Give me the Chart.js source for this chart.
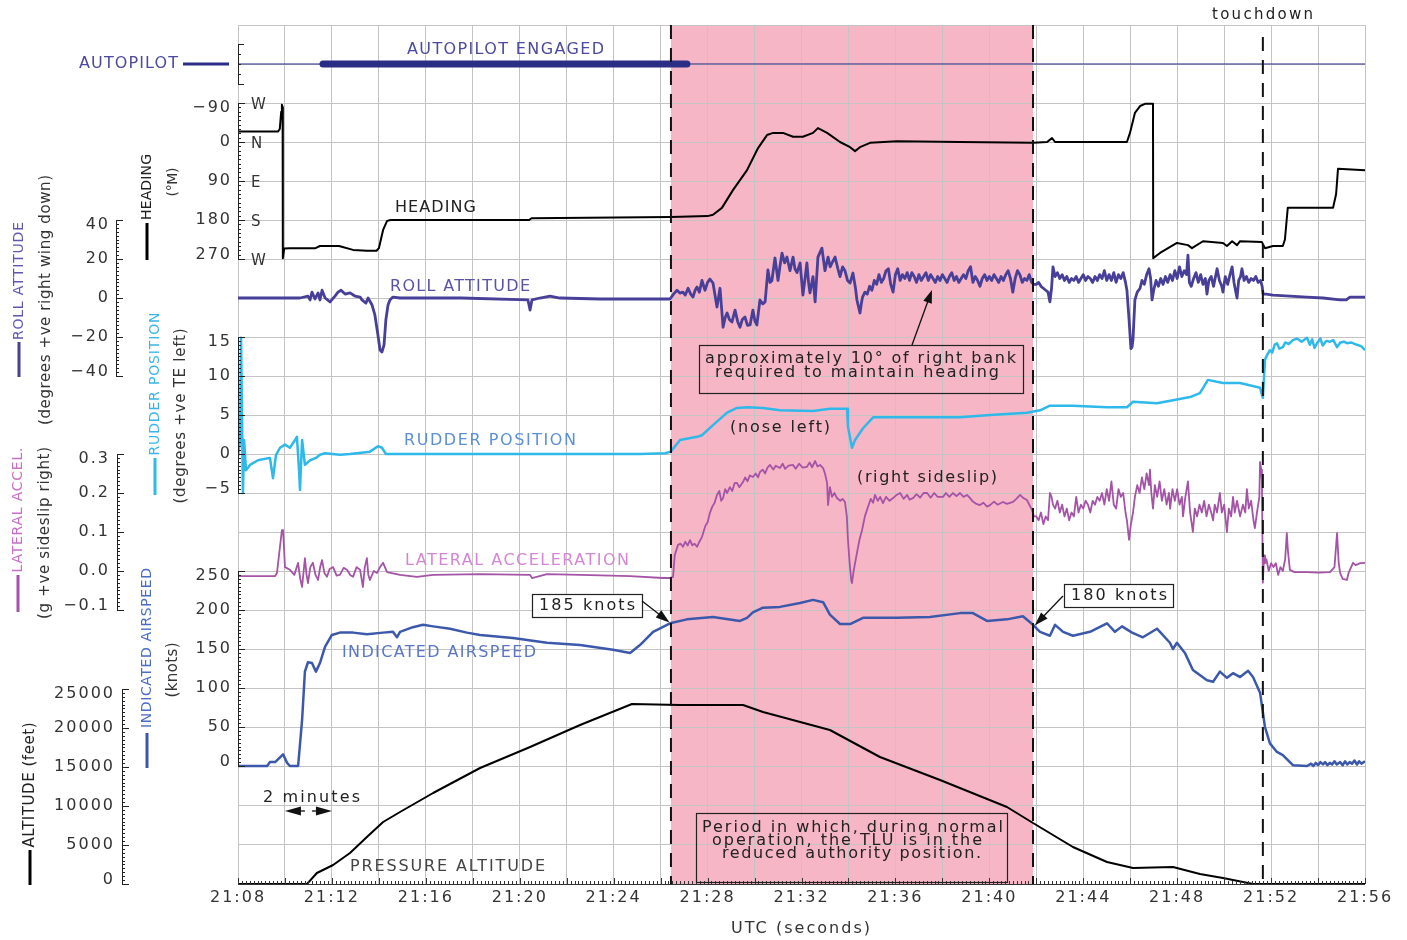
<!DOCTYPE html>
<html><head><meta charset="utf-8">
<script src="https://cdn.jsdelivr.net/npm/chart.js@4.4.1/dist/chart.umd.min.js"></script>
<style>html,body{margin:0;padding:0;background:#fff}canvas{display:block}</style>
</head><body>
<canvas id="c" width="1407" height="940"></canvas>
<script>
// ---------- DATA (time = minutes after 21:00 UTC) ----------
const timeTicks = [8,12,16,20,24,28,32,36,40,44,48,52,56];
const events = { tluStart: 26.44, tluEnd: 41.86, touchdown: 51.65 };
const autopilotAll = [[8,1],[56,1]];
const autopilotEngaged = [[11.62,1],[27.12,1]];

const headingTicks = [-90,0,90,180,270];
const compassLabels = ['W','N','E','S','W'];
const rollTicks = [40,20,0,-20,-40];
const rudderTicks = [15,10,5,0,-5];
const latTicks = [0.3,0.2,0.1,0.0,-0.1];
const iasTicks = [250,200,150,100,50,0];
const altTicks = [25000,20000,15000,10000,5000,0];

const heading = [[8.00,-24],[9.70,-24],[9.78,-30],[9.84,-70],[9.87,-86],[9.90,-80],[9.91,268],[9.97,246],[10.2,245],[11.3,245],[11.49,240],[12.3,240],[12.9,249],[13.5,251],[13.9,251],[14.0,245],[14.18,203],[14.35,182],[14.5,180],[20.4,180],[20.5,176],[26.44,173],[28.0,171],[28.23,168],[28.61,152],[29.08,111],[29.68,65],[30.15,14],[30.53,-16],[30.79,-21],[31.21,-21],[31.64,-12],[32.06,-12],[32.49,-21],[32.70,-32],[33.09,-21],[33.64,0],[34.07,12],[34.28,21],[34.49,12],[34.92,2],[36.07,-2],[38.75,0],[41.86,2],[42.46,0],[42.67,-9],[42.80,0],[45.86,0],[45.99,-21],[46.20,-67],[46.42,-83],[46.63,-88],[46.97,-88],[46.98,268],[47.27,256],[47.99,233],[48.46,238],[48.63,245],[49.10,229],[49.95,233],[50.12,240],[50.34,229],[50.55,238],[50.68,229],[51.61,231],[51.74,245],[52.08,240],[52.50,240],[52.59,225],[52.71,152],[54.64,152],[54.77,120],[54.85,62],[56.00,65]];

const roll = [[8.00,0],[10.64,0],[10.98,1],[11.07,-1],[11.15,3],[11.28,-0.5],[11.41,2.6],[11.49,-1],[11.58,4],[11.71,0],[11.92,-2],[12.13,1],[12.26,3],[12.39,4],[12.56,2],[12.77,2.6],[12.98,1],[13.20,0.5],[13.28,-1],[13.45,-2.6],[13.54,0],[13.71,-3.6],[13.83,-8.7],[13.96,-19],[14.05,-26.7],[14.13,-27.7],[14.22,-24],[14.30,-11],[14.39,-3.6],[14.47,-1],[14.60,0.5],[14.90,0],[17.5,0],[20.35,-1],[20.44,-6.2],[20.52,-1],[20.86,0],[21.29,1],[21.71,0],[23.42,-0.5],[26.40,-0.5],
[26.55,2],[26.70,4],[26.82,2.5],[26.95,3],[27.05,1.5],[27.17,5],[27.28,2],[27.38,0.5],[27.47,4],[27.55,5.6],[27.65,3],[27.76,9],[27.89,4],[28.0,8],[28.10,9.7],[28.23,7.7],[28.40,-4.6],[28.53,5],[28.66,-15],[28.75,-10],[28.83,-7.7],[28.93,-11],[29.04,-12.3],[29.17,-6.2],[29.28,-12],[29.38,-15],[29.48,-11],[29.59,-9.7],[29.70,-14],[29.81,-13.8],[29.93,-6.2],[30.02,-12],[30.10,-13.8],[30.23,-1],[30.35,-3],[30.45,-2],[30.57,14.4],[30.66,8],[30.74,9],[30.87,20.5],[31.00,9],[31.08,16],[31.17,23],[31.28,18],[31.38,21],[31.51,14],[31.64,21],[31.72,15],[31.81,13],[31.94,18],[32.06,1.5],[32.15,10],[32.23,18],[32.30,8],[32.36,2.6],[32.49,11],[32.58,-2],[32.70,21],[32.87,25.6],[33.00,14],[33.13,21],[33.22,16],[33.30,18],[33.43,21],[33.55,15],[33.64,11],[33.75,16],[33.85,14],[33.96,9],[34.07,7.7],[34.19,12.8],[34.30,5],[34.36,-1],[34.49,-7.7],[34.56,-2],
[34.6,0.5],[34.7,3],[34.8,2],[34.9,6],[35.0,4],[35.1,9],[35.2,7],[35.3,12],[35.4,8],[35.5,10],[35.6,14],[35.7,15],[35.8,7],[35.9,3],[36.0,12],[36.1,15],[36.2,9],[36.3,12],[36.4,10],[36.5,13],[36.6,9],[36.7,13],[36.8,11],[36.9,8],[37.0,12],[37.1,9],[37.2,11],[37.3,13],[37.4,9],[37.5,12],[37.6,10],[37.7,8],[37.8,11],[37.9,9],[38.0,12],[38.1,10],[38.2,8],[38.3,11],[38.4,13],[38.5,9],[38.6,11],[38.7,8],[38.8,10],[38.9,12],[39.0,10],[39.1,14],[39.2,16],[39.3,8],[39.4,11],[39.5,9],[39.6,6],[39.7,10],[39.8,12],[39.9,9],[40.0,11],[40.1,9],[40.2,12],[40.3,10],[40.4,8],[40.5,11],[40.6,9],[40.7,12],[40.8,14],[40.9,10],[41.0,3],[41.1,10],[41.2,14],[41.3,12],[41.4,8],[41.5,10],[41.6,9],[41.7,12],[41.8,8],[41.9,7],[42.0,7],
[42.1,8],[42.2,6],[42.3,5],[42.4,4],[42.5,3],[42.58,-2],[42.65,5],[42.71,16],[42.8,11],[42.9,13],[43.0,10],[43.1,12],[43.2,9],[43.3,11],[43.4,8],[43.5,10],[43.6,9],[43.7,11],[43.8,8],[43.9,10],[44.0,12],[44.1,9],[44.2,11],[44.3,10],[44.4,8],[44.5,11],[44.6,9],[44.7,12],[44.8,10],[44.9,14],[45.0,9],[45.1,12],[45.2,9],[45.3,13],[45.4,8],[45.5,12],[45.6,10],[45.7,13],[45.8,8],[45.86,4],[45.95,-11],[46.03,-26],[46.08,-25],[46.12,-21],[46.2,-1],[46.3,3],[46.42,5],[46.5,9],[46.6,7],[46.7,12],[46.8,15],[46.87,10],[46.93,-1],[47.0,4],[47.1,9],[47.2,6],[47.3,10],[47.4,7],[47.5,11],[47.6,8],[47.7,12],[47.8,9],[47.9,14],[48.0,10],[48.1,16],[48.2,11],[48.3,14],[48.4,12],[48.46,22],[48.52,8],[48.6,6],[48.7,10],[48.8,13],[48.9,8],[49.0,12],[49.1,7],[49.2,10],[49.27,2],[49.35,9],[49.45,11],[49.55,6],[49.7,15],[49.8,9],[49.9,6],[49.95,3],[50.05,11],[50.15,7],[50.25,12],[50.34,16],[50.42,8],[50.5,3],[50.55,0],[50.62,9],[50.7,11],[50.76,15],[50.85,9],[50.95,11],[51.05,8],[51.15,10],[51.25,9],[51.35,11],[51.45,8],[51.55,9],[51.62,6],[51.66,2],[51.8,2],[52.08,1.5],[53.53,0.5],[54.21,0],[54.94,-1],[55.2,-1],[55.36,0.5],[56.0,0.5]];

const rudder = [[8.00,-0.3],[8.09,1.8],[8.13,14.9],[8.17,14.9],[8.21,-5.0],[8.26,1.8],[8.34,-2.1],[8.51,-1.4],[8.85,-0.8],[9.36,-0.5],[9.49,-3.1],[9.62,-0.1],[9.79,0.8],[10.00,1.2],[10.21,0.8],[10.43,1.8],[10.51,2.2],[10.60,-2.1],[10.64,-4.6],[10.73,1.8],[10.85,-1.4],[11.07,-0.8],[11.32,-0.5],[11.49,-0.1],[11.71,0.1],[12.34,-0.1],[12.77,0],[13.62,0.3],[13.96,1.0],[14.13,0.8],[14.30,0],[14.90,0],[25.12,0],[26.19,0.1],[26.44,0.3],[26.48,0.5],[26.83,1.8],[27.55,2.2],[27.76,2.4],[28.23,3.7],[28.83,5.3],[29.25,5.9],[29.68,6.0],[30.36,5.9],[31.08,5.6],[32.49,5.5],[33.21,5.8],[33.94,5.8],[33.98,3.5],[34.15,0.8],[34.28,1.8],[34.62,3.3],[35.05,4.7],[36.75,4.7],[38.75,4.7],[40.03,5.0],[41.60,5.3],[42.16,5.6],[42.58,6.2],[43.56,6.2],[45.01,6.0],[45.86,6.0],[46.12,6.7],[47.14,6.5],[47.82,6.9],[48.55,7.3],[48.97,7.8],[49.31,9.5],[49.95,9.1],[50.68,9.1],[51.53,8.5],[51.65,7.2],[51.74,12.1],[51.85,12.8],[51.95,13.3],[52.05,13.0],[52.15,14.0],[52.25,14.2],[52.35,13.5],[52.50,13.7],[52.6,14.3],[52.75,14.1],[52.93,14.6],[53.1,14.8],[53.3,14.4],[53.53,14.9],[53.65,14.0],[53.75,14.7],[53.85,13.6],[53.96,14.2],[54.1,14.8],[54.2,13.9],[54.35,14.5],[54.51,14.4],[54.65,14.6],[54.81,13.7],[54.95,14.3],[55.1,14.4],[55.23,14.2],[55.4,14.3],[55.66,14.0],[55.85,13.8],[56.00,13.3]];

const lateralAccel = [[8.00,-0.013],[9.58,-0.013],[9.66,-0.005],[9.87,0.105],[9.92,0.105],[10.00,0.010],[10.21,0.003],[10.40,-0.01],[10.56,0.021],[10.65,-0.02],[10.73,-0.041],[10.85,0.033],[10.92,-0.01],[10.98,-0.031],[11.08,0.01],[11.19,0.021],[11.30,-0.01],[11.41,-0.023],[11.50,0.01],[11.58,0.028],[11.68,-0.005],[11.79,-0.015],[11.90,0.005],[12.05,0.010],[12.20,-0.012],[12.34,-0.010],[12.50,0.008],[12.64,0.003],[12.78,-0.01],[12.90,-0.015],[13.05,0.01],[13.20,0.003],[13.32,-0.041],[13.40,0.01],[13.49,0.033],[13.55,-0.01],[13.62,-0.023],[13.78,0.0],[13.92,-0.005],[14.05,0.01],[14.18,0.021],[14.35,-0.003],[14.90,-0.010],[15.62,-0.015],[16.31,-0.010],[18.31,-0.008],[20.44,-0.010],[20.52,-0.018],[21.16,-0.008],[22.57,-0.010],[24.70,-0.013],[26.10,-0.018],[26.40,-0.018],[26.53,-0.015],[26.6,0.04],[26.74,0.067],[26.85,0.07],[26.95,0.062],[27.05,0.075],[27.15,0.065],[27.25,0.079],[27.35,0.066],[27.45,0.07],[27.55,0.062],[27.65,0.075],[27.76,0.087],[27.9,0.115],[28.0,0.125],[28.10,0.149],[28.2,0.165],[28.3,0.175],[28.40,0.195],[28.5,0.205],[28.58,0.18],[28.66,0.187],[28.75,0.21],[28.83,0.200],[28.95,0.215],[29.05,0.205],[29.15,0.225],[29.25,0.226],[29.35,0.215],[29.51,0.228],[29.6,0.24],[29.7,0.23],[29.8,0.245],[29.93,0.241],[30.05,0.25],[30.15,0.24],[30.23,0.254],[30.35,0.26],[30.45,0.25],[30.55,0.265],[30.66,0.272],[30.8,0.26],[30.9,0.27],[31.08,0.264],[31.2,0.275],[31.3,0.262],[31.45,0.27],[31.64,0.272],[31.75,0.262],[31.9,0.275],[32.05,0.265],[32.23,0.267],[32.35,0.278],[32.45,0.266],[32.58,0.282],[32.68,0.268],[32.79,0.272],[32.92,0.264],[33.0,0.25],[33.09,0.226],[33.13,0.169],[33.21,0.215],[33.3,0.19],[33.4,0.2],[33.51,0.187],[33.65,0.18],[33.75,0.185],[33.85,0.177],[33.93,0.14],[33.98,0.079],[34.05,0.02],[34.12,-0.025],[34.15,-0.031],[34.22,0.0],[34.36,0.046],[34.47,0.08],[34.58,0.105],[34.7,0.14],[34.83,0.164],[34.95,0.185],[35.05,0.175],[35.13,0.195],[35.25,0.18],[35.35,0.19],[35.47,0.174],[35.6,0.19],[35.75,0.18],[35.90,0.187],[36.05,0.195],[36.20,0.200],[36.35,0.185],[36.5,0.195],[36.6,0.183],[36.75,0.187],[36.9,0.197],[37.05,0.188],[37.2,0.2],[37.35,0.200],[37.5,0.188],[37.65,0.2],[37.8,0.19],[38.03,0.190],[38.15,0.2],[38.3,0.19],[38.45,0.2],[38.6,0.192],[38.75,0.200],[38.9,0.19],[39.05,0.195],[39.18,0.187],[39.3,0.178],[39.45,0.172],[39.60,0.169],[39.75,0.175],[39.9,0.165],[40.03,0.169],[40.2,0.178],[40.35,0.17],[40.58,0.177],[40.75,0.172],[41.01,0.177],[41.15,0.185],[41.31,0.195],[41.45,0.187],[41.60,0.182],[41.7,0.17],[41.82,0.156],[41.9,0.14],[42.0,0.14],[42.1,0.13],[42.2,0.15],[42.3,0.12],[42.4,0.14],[42.5,0.13],[42.58,0.20],[42.65,0.19],[42.71,0.17],[42.8,0.16],[42.9,0.18],[43.0,0.15],[43.1,0.17],[43.2,0.14],[43.3,0.16],[43.4,0.13],[43.5,0.15],[43.6,0.14],[43.7,0.19],[43.8,0.15],[43.9,0.17],[44.0,0.16],[44.1,0.18],[44.2,0.17],[44.3,0.15],[44.4,0.18],[44.5,0.17],[44.6,0.19],[44.7,0.18],[44.8,0.20],[44.9,0.17],[45.0,0.21],[45.1,0.18],[45.2,0.23],[45.3,0.17],[45.4,0.16],[45.5,0.21],[45.6,0.19],[45.7,0.20],[45.8,0.15],[45.86,0.13],[45.95,0.08],[46.03,0.12],[46.12,0.15],[46.2,0.19],[46.3,0.22],[46.4,0.20],[46.5,0.24],[46.6,0.21],[46.7,0.25],[46.8,0.22],[46.84,0.26],[46.9,0.20],[46.97,0.16],[47.05,0.22],[47.15,0.19],[47.25,0.23],[47.35,0.18],[47.45,0.21],[47.55,0.17],[47.65,0.20],[47.7,0.16],[47.8,0.21],[47.9,0.18],[48.0,0.21],[48.1,0.17],[48.2,0.19],[48.25,0.14],[48.35,0.19],[48.46,0.23],[48.55,0.15],[48.67,0.10],[48.75,0.16],[48.85,0.14],[48.95,0.17],[49.05,0.15],[49.15,0.18],[49.25,0.14],[49.35,0.17],[49.45,0.15],[49.53,0.13],[49.6,0.17],[49.7,0.15],[49.82,0.20],[49.9,0.15],[50.0,0.17],[50.12,0.10],[50.2,0.16],[50.3,0.14],[50.38,0.19],[50.45,0.15],[50.55,0.18],[50.68,0.14],[50.8,0.17],[50.9,0.15],[50.97,0.21],[51.05,0.16],[51.15,0.18],[51.25,0.13],[51.31,0.11],[51.4,0.15],[51.5,0.19],[51.53,0.28],[51.58,0.26],[51.61,0.23],[51.65,-0.03],[51.7,0.04],[51.74,0.02],[51.8,0.03],[51.9,0.00],[52.0,0.02],[52.1,0.01],[52.2,0.02],[52.3,-0.01],[52.4,0.01],[52.5,0.0],[52.6,0.03],[52.67,0.097],[52.72,0.05],[52.8,0.003],[53.0,-0.003],[53.53,-0.003],[54.0,-0.004],[54.51,-0.003],[54.7,0.01],[54.81,0.097],[54.88,0.02],[54.94,-0.005],[55.05,-0.02],[55.23,-0.023],[55.3,-0.005],[55.49,0.021],[55.6,0.015],[55.8,0.02],[56.0,0.021]];

const airspeed = [[8.00,0],[9.24,0],[9.36,5],[9.58,5],[9.92,15],[10.09,4],[10.21,0],[10.56,0],[10.73,59],[10.85,121],[10.98,133],[11.15,132],[11.32,121],[11.49,132],[11.71,153],[12.00,168],[12.34,171],[12.90,171],[13.49,169],[14.18,171],[14.60,172],[14.77,165],[14.90,172],[15.45,178],[15.88,181],[16.31,179],[17.03,176],[17.75,171],[18.31,168],[19.71,164],[21.16,158],[22.57,155],[23.97,149],[24.70,145],[25.12,155],[25.68,172],[26.40,183],[27.12,188],[28.23,191],[29.38,186],[29.68,190],[29.93,197],[30.36,203],[31.08,204],[31.94,209],[32.49,213],[32.92,210],[33.21,194],[33.64,182],[34.07,182],[34.62,190],[36.07,190],[37.47,191],[38.75,196],[39.30,196],[39.90,186],[40.75,188],[41.43,192],[41.86,181],[42.16,172],[42.58,167],[42.80,181],[43.14,172],[43.56,167],[44.29,172],[45.01,183],[45.35,172],[45.65,179],[46.08,171],[46.54,165],[47.14,176],[47.69,158],[47.82,150],[47.99,158],[48.33,145],[48.67,123],[49.27,110],[49.53,108],[49.82,121],[50.12,113],[50.38,119],[50.68,114],[51.02,122],[51.23,114],[51.53,94],[51.74,50],[51.95,29],[52.25,18],[52.50,14],[52.93,1],[53.53,0],[53.7,3],[53.8,0],[53.9,4],[54.0,1],[54.1,5],[54.21,2],[54.3,5],[54.4,1],[54.5,4],[54.6,2],[54.7,6],[54.8,2],[54.94,5],[55.05,1],[55.15,6],[55.25,2],[55.35,5],[55.45,3],[55.55,7],[55.66,2],[55.75,6],[55.85,3],[56.0,6]];

const altitude = [[8.00,0],[10.94,0],[11.36,1410],[12.05,2436],[12.77,3974],[13.49,6026],[14.18,7949],[14.90,9231],[16.31,11667],[18.31,14872],[20.44,17564],[22.57,20385],[24.78,23077],[26.83,22949],[29.51,22949],[30.36,22051],[33.21,19744],[35.34,16282],[37.90,13333],[40.75,9872],[41.86,7821],[43.56,4744],[45.01,2821],[46.12,2051],[47.82,2179],[48.97,1282],[49.95,769],[51.23,0],[56.00,0]];

// ---------- STYLE ----------
const FONT = '"DejaVu Sans", sans-serif';
const C = { roll:'#473f98', rudder:'#2fb8ea', lat:'#a553a6', ias:'#3c58aa', ap:'#2b2d86', pink:'#f6b6c5', grid:'#c4c4c4' };

function pts(a){ return a.map(([x,y]) => ({x, y})); }
function ds(a, axis, color, w, extra){ return Object.assign({ data: pts(a), xAxisID: 'x', yAxisID: axis, borderColor: color, borderWidth: w, pointRadius: 0, fill: false, tension: 0, borderJoinStyle: 'round' }, extra || {}); }

function txt(ctx, s, o){
  ctx.save();
  ctx.font = (o.size || 16) + 'px ' + FONT;
  ctx.letterSpacing = '0px';
  const base = ctx.measureText(s).width;
  let ls = (o.ls !== undefined) ? o.ls : 1.5;
  if (o.w) ls = (o.w - base) / Math.max(1, s.length - 1);
  const W = base + ls * (s.length - 1);
  ctx.letterSpacing = ls + 'px';
  ctx.fillStyle = o.color || '#333';
  ctx.textBaseline = 'middle';
  ctx.textAlign = 'left';
  ctx.translate(o.x, o.y);
  if (o.rot) ctx.rotate(o.rot);
  const x0 = o.align === 'center' ? -W / 2 : (o.align === 'right' ? -W : 0);
  ctx.fillText(s, x0, 0);
  ctx.restore();
}
function line(ctx, x1, y1, x2, y2, color, w, dash){
  ctx.save(); ctx.strokeStyle = color; ctx.lineWidth = w; if (dash) ctx.setLineDash(dash);
  ctx.beginPath(); ctx.moveTo(x1, y1); ctx.lineTo(x2, y2); ctx.stroke(); ctx.restore();
}
function arrow(ctx, x1, y1, x2, y2, head){
  head = head || 12;
  const a = Math.atan2(y2 - y1, x2 - x1);
  line(ctx, x1, y1, x2 - Math.cos(a) * head * 0.8, y2 - Math.sin(a) * head * 0.8, '#111', 1.3);
  ctx.save(); ctx.fillStyle = '#111'; ctx.beginPath();
  ctx.moveTo(x2, y2);
  ctx.lineTo(x2 - head * Math.cos(a) + 4.5 * Math.sin(a), y2 - head * Math.sin(a) - 4.5 * Math.cos(a));
  ctx.lineTo(x2 - head * Math.cos(a) - 4.5 * Math.sin(a), y2 - head * Math.sin(a) + 4.5 * Math.cos(a));
  ctx.closePath(); ctx.fill(); ctx.restore();
}
function box(ctx, x1, y1, x2, y2){
  ctx.save(); ctx.strokeStyle = '#222'; ctx.lineWidth = 1.2; ctx.strokeRect(x1 + 0.5, y1 + 0.5, x2 - x1, y2 - y1); ctx.restore();
}
function fmt(v){ const s = String(v); return v < 0 ? '\u2212' + s.slice(1) : s; }
function ruler(ctx, scale, x, ticks, minor, labelRight, fmtFn){
  const top = ticks[0], bot = ticks[ticks.length - 1];
  const yA = scale.getPixelForValue(top), yB = scale.getPixelForValue(bot);
  ctx.save(); ctx.strokeStyle = '#222'; ctx.lineWidth = 1;
  ctx.beginPath(); ctx.moveTo(x + 0.5, Math.min(yA, yB)); ctx.lineTo(x + 0.5, Math.max(yA, yB));
  const n = Math.round(Math.abs(bot - top) / minor);
  const dir = bot > top ? 1 : -1;
  for (let i = 0; i <= n; i++){
    const v = top + dir * i * minor;
    const y = Math.round(scale.getPixelForValue(v)) + 0.5;
    const major = ticks.some(m => Math.abs(m - v) < minor / 2);
    ctx.moveTo(x, y); ctx.lineTo(x + (major ? 7 : 3), y);
  }
  ctx.stroke(); ctx.restore();
  ticks.forEach((t, i) => {
    let y = scale.getPixelForValue(t);
    if (i === 0) y += 5; else if (i === ticks.length - 1) y -= 4;
    txt(ctx, fmtFn ? fmtFn(t) : fmt(t), { x: labelRight, y: y, align: 'right', size: 16, ls: 2, color: '#333' });
  });
}

const decor = {
  id: 'decor',
  beforeDraw(chart){
    const ctx = chart.ctx, a = chart.chartArea, X = chart.scales.x;
    ctx.save(); ctx.fillStyle = '#fff'; ctx.fillRect(0, 0, chart.width, chart.height); ctx.restore();
    ctx.save(); ctx.fillStyle = C.pink;
    const x1 = X.getPixelForValue(events.tluStart), x2 = X.getPixelForValue(events.tluEnd);
    ctx.fillRect(x1, a.top, x2 - x1, a.bottom - a.top); ctx.restore();
    ctx.letterSpacing = '2px';
  },
  afterDatasetsDraw(chart){
    const ctx = chart.ctx, a = chart.chartArea, X = chart.scales.x, S = chart.scales;
    ctx.letterSpacing = '0px';
    ctx.save(); ctx.strokeStyle = '#333'; ctx.lineWidth = 1; ctx.beginPath();
    ctx.moveTo(a.left, a.bottom + 0.5); ctx.lineTo(a.right, a.bottom + 0.5);
    for (let i = 0; i <= 48 * 6; i++){
      const t = 8 + i / 6, x = Math.round(X.getPixelForValue(t)) + 0.5;
      const len = (i % 12 === 0) ? 6 : 3;
      ctx.moveTo(x, a.bottom); ctx.lineTo(x, a.bottom - len);
    }
    ctx.stroke(); ctx.restore();
    const xs = X.getPixelForValue(events.tluStart), xe = X.getPixelForValue(events.tluEnd), xt = X.getPixelForValue(events.touchdown);
    line(ctx, xs, a.top, xs, a.bottom, '#111', 2, [14, 9]);
    line(ctx, xe, a.top, xe, a.bottom, '#111', 2, [14, 9]);
    line(ctx, xt, 37, xt, a.bottom, '#111', 2, [14, 9]);
    ruler(ctx, S.yHdg, 238, headingTicks, 10, 230);
    ruler(ctx, S.yRoll, 116, rollTicks, 2, 108);
    ruler(ctx, S.yRud, 238, rudderTicks, 0.5, 230);
    ruler(ctx, S.yLat, 117, latTicks, 0.01, 108, v => v < 0 ? '\u2212' + Math.abs(v).toFixed(1) : v.toFixed(1));
    ruler(ctx, S.yIas, 238, iasTicks, 5, 230);
    ruler(ctx, S.yAlt, 122, altTicks, 500, 113);
    ctx.save(); ctx.strokeStyle = '#222'; ctx.lineWidth = 1; ctx.beginPath();
    ctx.moveTo(238.5, 44); ctx.lineTo(238.5, 84);
    [44, 54, 64, 74, 84].forEach((y, i) => { ctx.moveTo(238, y + 0.5); ctx.lineTo(238 + (i % 4 === 0 ? 6 : 3), y + 0.5); });
    ctx.stroke(); ctx.restore();
    headingTicks.forEach((t, i) => txt(ctx, compassLabels[i], { x: 251, y: S.yHdg.getPixelForValue(t) + 2, size: 15, ls: 0, color: '#333' }));
    txt(ctx, 'AUTOPILOT', { x: 79, y: 64, w: 99, size: 16, color: '#4a4a9e' });
    line(ctx, 183, 64, 229, 64, C.ap, 3);
    txt(ctx, 'AUTOPILOT ENGAGED', { x: 407, y: 50, w: 197, size: 16, color: '#4a4a9e' });
    txt(ctx, 'HEADING', { x: 395, y: 208, w: 81, size: 16, color: '#222' });
    txt(ctx, 'ROLL ATTITUDE', { x: 390, y: 287, w: 140, size: 16, color: '#5a52a8' });
    txt(ctx, 'RUDDER POSITION', { x: 404, y: 441, w: 172, size: 16, color: '#5b8fd6' });
    txt(ctx, 'LATERAL ACCELERATION', { x: 405, y: 561, w: 224, size: 16, color: '#d486d4' });
    txt(ctx, 'INDICATED AIRSPEED', { x: 342, y: 653, w: 194, size: 16, color: '#5b76c8' });
    txt(ctx, 'PRESSURE ALTITUDE', { x: 350, y: 867, w: 195, size: 16, color: '#444' });
    txt(ctx, 'touchdown', { x: 1212, y: 15, w: 101, size: 15, color: '#222' });
    txt(ctx, '(nose left)', { x: 730, y: 428, w: 100, size: 16, color: '#222' });
    txt(ctx, '(right sideslip)', { x: 857, y: 478, w: 140, size: 16, color: '#222' });
    txt(ctx, '2 minutes', { x: 263, y: 798, w: 97, size: 16, color: '#222' });
    const m1 = X.getPixelForValue(10), m2 = X.getPixelForValue(12);
    arrow(ctx, m1 + 20, 811, m1, 811, 16);
    arrow(ctx, m2 - 20, 811, m2, 811, 16);
    box(ctx, 699, 345, 1023, 393);
    txt(ctx, 'approximately 10\u00b0 of right bank', { x: 705, y: 359, w: 311, size: 16, color: '#222' });
    txt(ctx, 'required to maintain heading', { x: 715, y: 373, w: 284, size: 16, color: '#222' });
    arrow(ctx, 912, 345, 932, 290, 13);
    ctx.save(); ctx.fillStyle = '#fff'; ctx.fillRect(532, 594, 110, 23); ctx.restore();
    box(ctx, 532, 594, 642, 617);
    txt(ctx, '185 knots', { x: 539, y: 606, w: 96, size: 16, color: '#222' });
    arrow(ctx, 642, 601, X.getPixelForValue(26.38), S.yIas.getPixelForValue(184), 14);
    ctx.save(); ctx.fillStyle = '#fff'; ctx.fillRect(1064, 584, 109, 23); ctx.restore();
    box(ctx, 1064, 584, 1173, 607);
    txt(ctx, '180 knots', { x: 1071, y: 596, w: 96, size: 16, color: '#222' });
    arrow(ctx, 1063, 596, X.getPixelForValue(41.93), S.yIas.getPixelForValue(180), 14);
    box(ctx, 696, 813, 1007, 882);
    txt(ctx, 'Period in which, during normal', { x: 702, y: 828, w: 301, size: 16, color: '#222' });
    txt(ctx, 'operation, the TLU is in the', { x: 712, y: 841, w: 270, size: 16, color: '#222' });
    txt(ctx, 'reduced authority position.', { x: 722, y: 854, w: 259, size: 16, color: '#222' });
    txt(ctx, 'UTC (seconds)', { x: 731, y: 929, w: 139, size: 16, color: '#333' });
    const R = -Math.PI / 2;
    txt(ctx, 'HEADING', { x: 147, y: 187, w: 66, size: 14, rot: R, align: 'center', color: '#222' });
    line(ctx, 147, 223, 147, 260, '#000', 3);
    txt(ctx, '(\u00b0M)', { x: 173, y: 182, w: 29, size: 14, rot: R, align: 'center', color: '#333' });
    txt(ctx, 'ROLL ATTITUDE', { x: 19, y: 281, w: 118, size: 14, rot: R, align: 'center', color: '#6058b0' });
    line(ctx, 19, 342, 19, 377, C.roll, 3);
    txt(ctx, '(degrees +ve right wing down)', { x: 46, y: 300, w: 250, size: 15, rot: R, align: 'center', color: '#333' });
    txt(ctx, 'RUDDER POSITION', { x: 155, y: 384, w: 143, size: 14, rot: R, align: 'center', color: '#38b6ea' });
    line(ctx, 155, 458, 155, 495, C.rudder, 3);
    txt(ctx, '(degrees +ve TE left)', { x: 181, y: 416, w: 175, size: 15, rot: R, align: 'center', color: '#333' });
    txt(ctx, 'LATERAL ACCEL.', { x: 18, y: 510, w: 125, size: 14, rot: R, align: 'center', color: '#c870c8' });
    line(ctx, 18, 575, 18, 612, C.lat, 3);
    txt(ctx, '(g +ve sideslip right)', { x: 45, y: 533, w: 172, size: 15, rot: R, align: 'center', color: '#333' });
    txt(ctx, 'INDICATED AIRSPEED', { x: 147, y: 648, w: 160, size: 14, rot: R, align: 'center', color: '#4a6cc4' });
    line(ctx, 147, 733, 147, 768, C.ias, 3);
    txt(ctx, '(knots)', { x: 173, y: 670, w: 55, size: 15, rot: R, align: 'center', color: '#333' });
    txt(ctx, 'ALTITUDE (feet)', { x: 30, y: 785, w: 125, size: 15, rot: R, align: 'center', color: '#222' });
    line(ctx, 30, 850, 30, 885, '#000', 3);
    ctx.letterSpacing = '2px';
  }
};

const yHidden = (min, max, rev) => ({ type: 'linear', axis: 'y', position: 'left', display: false, min: min, max: max, reverse: !!rev });

new Chart(document.getElementById('c'), {
  type: 'line',
  data: { datasets: [
    ds(autopilotAll, 'yAp', C.ap, 1),
    ds(autopilotEngaged, 'yAp', C.ap, 7, { borderCapStyle: 'round' }),
    ds(heading, 'yHdg', '#000', 2),
    ds(roll, 'yRoll', C.roll, 2.8),
    ds(rudder, 'yRud', C.rudder, 2.5),
    ds(lateralAccel, 'yLat', C.lat, 1.8),
    ds(airspeed, 'yIas', C.ias, 2.5),
    ds(altitude, 'yAlt', '#000', 2)
  ]},
  options: {
    responsive: false, animation: false, events: [],
    layout: { padding: { left: 238, right: 42, top: 25, bottom: 0 } },
    plugins: { legend: { display: false }, tooltip: { enabled: false } },
    scales: {
      x: { type: 'linear', axis: 'x', position: 'bottom', min: 8, max: 56, afterFit: s => { s.height = 56; },
           ticks: { stepSize: 2, autoSkip: false, maxRotation: 0, padding: 4, color: '#333',
                    font: { family: FONT, size: 16 },
                    callback: v => timeTicks.includes(v) ? '21:' + String(v).padStart(2, '0') : '' },
           grid: { color: C.grid, lineWidth: 1, drawTicks: false }, border: { display: false } },
      yGrid: { type: 'linear', axis: 'y', position: 'left', min: 0, max: 22, afterFit: s => { s.width = 0; },
           ticks: { display: false, stepSize: 1 }, grid: { color: C.grid, lineWidth: 1, drawTicks: false }, border: { display: false } },
      yHdg: yHidden(-270, 1712.3, true),
      yRoll: yHidden(-300.5, 140),
      yRud: yHidden(-55.13, 55),
      yLat: yHidden(-0.8026, 1.4),
      yIas: yHidden(-151.28, 950),
      yAlt: yHidden(0, 110128),
      yAp: yHidden(-20.03, 2)
    }
  },
  plugins: [decor]
});
</script>
</body></html>
